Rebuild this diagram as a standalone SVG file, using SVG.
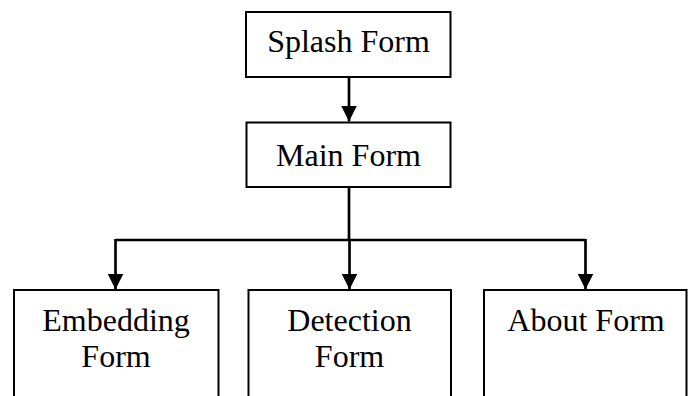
<svg xmlns="http://www.w3.org/2000/svg" width="694" height="396" viewBox="0 0 694 396">
  <defs>
    <marker id="arrow" markerUnits="userSpaceOnUse" markerWidth="16" markerHeight="16" viewBox="0 0 16 16" refX="16" refY="8" orient="auto">
      <path d="M0,0 L16,8 L0,16 Z" fill="#000"/>
    </marker>
  </defs>
  <style>
    .box { fill: #fff; stroke: #000; stroke-width: 2; }
    .lbl { font-family: "Liberation Serif", "Times New Roman", serif; font-size: 32px; fill: #000; text-anchor: middle; }
    .wire { fill: none; stroke: #000; stroke-width: 2.7; }
  </style>
  <rect width="694" height="396" fill="#fff"/>

  <g id="connectors">
    <path class="wire" d="M349,77 V121.5" marker-end="url(#arrow)"/>
    <path class="wire" d="M349,187 V240"/>
    <path class="wire" d="M115.5,240 H585.5"/>
    <path class="wire" d="M115.5,239 V289.5" marker-end="url(#arrow)"/>
    <path class="wire" d="M349.5,240 V289.5" marker-end="url(#arrow)"/>
    <path class="wire" d="M585.5,239 V289.5" marker-end="url(#arrow)"/>
  </g>

  <g id="splash-form">
    <rect class="box" x="246" y="12" width="204.5" height="65"/>
    <text class="lbl" x="348.5" y="52">Splash Form</text>
  </g>

  <g id="main-form">
    <rect class="box" x="246.5" y="122.5" width="204" height="64.5"/>
    <text class="lbl" x="348.5" y="165.5">Main Form</text>
  </g>

  <g id="embedding-form">
    <rect class="box" x="14" y="290" width="204.5" height="120"/>
    <text class="lbl" x="116" y="330.5">Embedding</text>
    <text class="lbl" x="116" y="367">Form</text>
  </g>

  <g id="detection-form">
    <rect class="box" x="248.5" y="290" width="202.5" height="120"/>
    <text class="lbl" x="349.5" y="330.5">Detection</text>
    <text class="lbl" x="349.5" y="367">Form</text>
  </g>

  <g id="about-form">
    <rect class="box" x="484" y="290" width="202.5" height="120"/>
    <text class="lbl" x="586" y="330.5">About Form</text>
  </g>
</svg>
